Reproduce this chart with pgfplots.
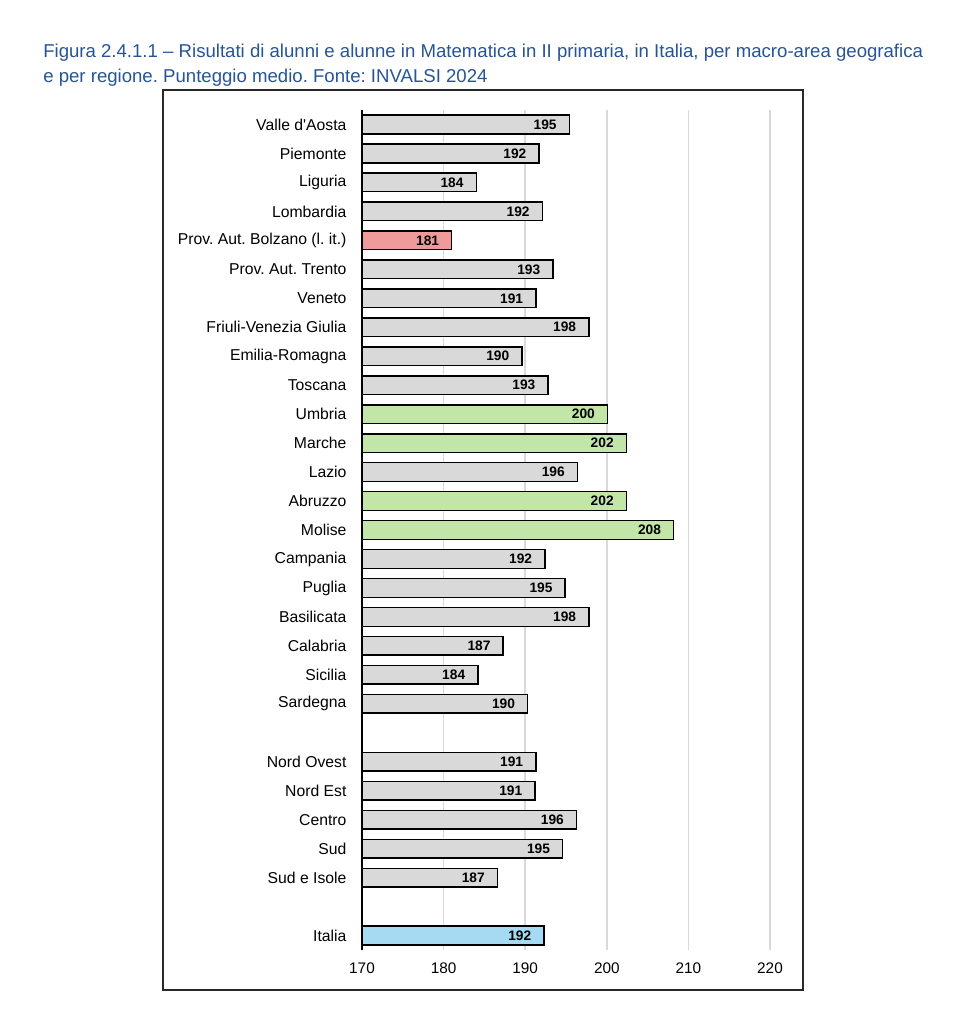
\documentclass[border=0pt]{standalone}
\usepackage{pgfplots}
\usepackage{pgfplotstable}
\pgfplotsset{compat=1.18}
\usepackage{fontspec}
\setmainfont{Liberation Sans}[Ligatures=TeXOff]
\frenchspacing
\definecolor{titleblue}{RGB}{38,84,150}
\definecolor{bargray}{RGB}{217,217,217}
\definecolor{barred}{RGB}{240,155,155}
\definecolor{bargreen}{RGB}{194,230,168}
\definecolor{barblue}{RGB}{166,217,242}
\definecolor{gridgray}{RGB}{217,217,217}
\definecolor{framegray}{RGB}{40,40,40}

\pgfplotstableread{
y x lab
0 195.4 195
1 191.7 192
2 184.0 184
3 192.1 192
5 193.4 193
6 191.3 191
7 197.8 198
8 189.6 190
9 192.8 193
12 196.4 196
15 192.4 192
16 194.9 195
17 197.8 198
18 187.3 187
19 184.2 184
20 190.3 190
22 191.3 191
23 191.2 191
24 196.3 196
25 194.6 195
26 186.6 187
}\graydata

\pgfplotstableread{
y x lab
4 181.0 181
}\reddata

\pgfplotstableread{
y x lab
10 200.1 200
11 202.4 202
13 202.4 202
14 208.2 208
}\greendata

\pgfplotstableread{
y x lab
28 192.3 192
}\bluedata

\begin{document}
\begin{tikzpicture}
\path (0,0) rectangle (717pt,-768pt);
\draw[framegray, line width=1.1pt] (122.25pt,-67.5pt) rectangle (602.25pt,-742.5pt);
\node[anchor=base west, inner sep=0pt, text=titleblue, font=\fontsize{13.95pt}{16pt}\selectfont] at (32.25pt,-43.5pt) {Figura 2.4.1.1 – Risultati di alunni e alunne in Matematica in II primaria, in Italia, per macro-area geografica};
\node[anchor=base west, inner sep=0pt, text=titleblue, font=\fontsize{13.95pt}{16pt}\selectfont] at (32.25pt,-62.25pt) {e per regione. Punteggio medio. Fonte: INVALSI 2024};
\begin{axis}[
  at={(271.5pt,-712.5pt)}, anchor=south west,
  scale only axis, width=306pt, height=630pt,
  xbar, bar width=14pt, bar shift=0pt,
  xmin=170, xmax=220, ymin=-0.5, ymax=28.5,
  y dir=reverse,
  axis lines*=left,
  x axis line style={draw=none},
  y axis line style={black, line width=1.3pt},
  xtick={170,180,...,220},
  ytick={0,1,2,3,4,5,6,7,8,9,10,11,12,13,14,15,16,17,18,19,20,22,23,24,25,26,28},
  yticklabels={Valle d'Aosta,Piemonte,Liguria,Lombardia,Prov. Aut. Bolzano (l. it.),Prov. Aut. Trento,Veneto,Friuli-Venezia Giulia,Emilia-Romagna,Toscana,Umbria,Marche,Lazio,Abruzzo,Molise,Campania,Puglia,Basilicata,Calabria,Sicilia,Sardegna,Nord Ovest,Nord Est,Centro,Sud,Sud e Isole,Italia},
  major tick length=0pt,
  xmajorgrids, major grid style={gridgray, line width=1.1pt},
  /pgf/number format/assume math mode=true,
  xticklabel style={font=\fontsize{11.5pt}{13pt}\selectfont, anchor=north, inner sep=0pt, yshift=-9.5pt},
  yticklabel style={font=\fontsize{11.8pt}{14pt}\selectfont, anchor=east, inner sep=0pt, xshift=-11.5pt},
  nodes near coords,
  point meta=explicit symbolic,
  every node near coord/.append style={anchor=east, inner sep=0pt, xshift=-9pt, font=\bfseries\fontsize{10.3pt}{12pt}\selectfont, text=black},
  clip=true,
]
\addplot[fill=bargray, draw=black, line width=1.1pt] table[x=x, y=y, meta=lab] {\graydata};
\addplot[fill=barred, draw=black, line width=1.1pt] table[x=x, y=y, meta=lab] {\reddata};
\addplot[fill=bargreen, draw=black, line width=1.1pt] table[x=x, y=y, meta=lab] {\greendata};
\addplot[fill=barblue, draw=black, line width=1.1pt] table[x=x, y=y, meta=lab] {\bluedata};
\end{axis}
\end{tikzpicture}
\end{document}
